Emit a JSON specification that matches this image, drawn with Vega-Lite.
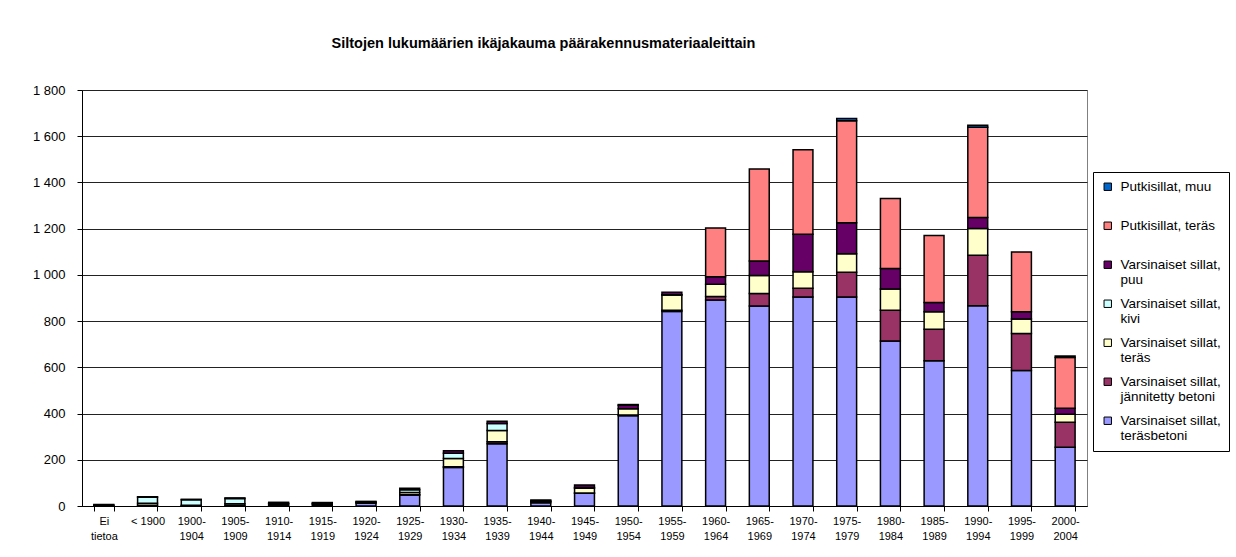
{
  "$schema": "https://vega.github.io/schema/vega-lite/v6.json",
  "width": 1005,
  "height": 416,
  "autosize": {"type": "none"},
  "padding": {"left": 82, "top": 90, "right": 149, "bottom": 51},
  "background": "white",
  "title": {
    "text": "Siltojen lukumäärien ikäjakauma päärakennusmateriaaleittain",
    "font": "Liberation Sans",
    "fontSize": 14.5,
    "fontWeight": "bold",
    "color": "#000",
    "anchor": "middle",
    "dx": -41,
    "offset": 33
  },
  "config": {
    "font": "Liberation Sans",
    "view": {"stroke": "#808080", "strokeWidth": 1}
  },
  "data": {
    "values": [
      {"kausi": "Ei tietoa", "sarja": "Varsinaiset sillat, teräsbetoni", "lkm": 2},
      {"kausi": "Ei tietoa", "sarja": "Varsinaiset sillat, teräs", "lkm": 1},
      {"kausi": "Ei tietoa", "sarja": "Varsinaiset sillat, puu", "lkm": 4},
      {"kausi": "< 1900", "sarja": "Varsinaiset sillat, teräsbetoni", "lkm": 3},
      {"kausi": "< 1900", "sarja": "Varsinaiset sillat, teräs", "lkm": 9},
      {"kausi": "< 1900", "sarja": "Varsinaiset sillat, kivi", "lkm": 26},
      {"kausi": "< 1900", "sarja": "Varsinaiset sillat, puu", "lkm": 2},
      {"kausi": "1900-1904", "sarja": "Varsinaiset sillat, teräsbetoni", "lkm": 1},
      {"kausi": "1900-1904", "sarja": "Varsinaiset sillat, teräs", "lkm": 2},
      {"kausi": "1900-1904", "sarja": "Varsinaiset sillat, kivi", "lkm": 24},
      {"kausi": "1900-1904", "sarja": "Varsinaiset sillat, puu", "lkm": 2},
      {"kausi": "1905-1909", "sarja": "Varsinaiset sillat, teräsbetoni", "lkm": 2},
      {"kausi": "1905-1909", "sarja": "Varsinaiset sillat, teräs", "lkm": 8},
      {"kausi": "1905-1909", "sarja": "Varsinaiset sillat, kivi", "lkm": 22},
      {"kausi": "1905-1909", "sarja": "Varsinaiset sillat, puu", "lkm": 3},
      {"kausi": "1910-1914", "sarja": "Varsinaiset sillat, teräsbetoni", "lkm": 4},
      {"kausi": "1910-1914", "sarja": "Varsinaiset sillat, teräs", "lkm": 6},
      {"kausi": "1910-1914", "sarja": "Varsinaiset sillat, kivi", "lkm": 2},
      {"kausi": "1910-1914", "sarja": "Varsinaiset sillat, puu", "lkm": 4},
      {"kausi": "1915-1919", "sarja": "Varsinaiset sillat, teräsbetoni", "lkm": 5},
      {"kausi": "1915-1919", "sarja": "Varsinaiset sillat, teräs", "lkm": 5},
      {"kausi": "1915-1919", "sarja": "Varsinaiset sillat, kivi", "lkm": 2},
      {"kausi": "1915-1919", "sarja": "Varsinaiset sillat, puu", "lkm": 3},
      {"kausi": "1920-1924", "sarja": "Varsinaiset sillat, teräsbetoni", "lkm": 12},
      {"kausi": "1920-1924", "sarja": "Varsinaiset sillat, teräs", "lkm": 4},
      {"kausi": "1920-1924", "sarja": "Varsinaiset sillat, kivi", "lkm": 1},
      {"kausi": "1920-1924", "sarja": "Varsinaiset sillat, puu", "lkm": 3},
      {"kausi": "1925-1929", "sarja": "Varsinaiset sillat, teräsbetoni", "lkm": 48},
      {"kausi": "1925-1929", "sarja": "Varsinaiset sillat, jännitetty betoni", "lkm": 1},
      {"kausi": "1925-1929", "sarja": "Varsinaiset sillat, teräs", "lkm": 9},
      {"kausi": "1925-1929", "sarja": "Varsinaiset sillat, kivi", "lkm": 12},
      {"kausi": "1925-1929", "sarja": "Varsinaiset sillat, puu", "lkm": 7},
      {"kausi": "1930-1934", "sarja": "Varsinaiset sillat, teräsbetoni", "lkm": 167},
      {"kausi": "1930-1934", "sarja": "Varsinaiset sillat, jännitetty betoni", "lkm": 3},
      {"kausi": "1930-1934", "sarja": "Varsinaiset sillat, teräs", "lkm": 36},
      {"kausi": "1930-1934", "sarja": "Varsinaiset sillat, kivi", "lkm": 22},
      {"kausi": "1930-1934", "sarja": "Varsinaiset sillat, puu", "lkm": 11},
      {"kausi": "1935-1939", "sarja": "Varsinaiset sillat, teräsbetoni", "lkm": 269},
      {"kausi": "1935-1939", "sarja": "Varsinaiset sillat, jännitetty betoni", "lkm": 9},
      {"kausi": "1935-1939", "sarja": "Varsinaiset sillat, teräs", "lkm": 49},
      {"kausi": "1935-1939", "sarja": "Varsinaiset sillat, kivi", "lkm": 30},
      {"kausi": "1935-1939", "sarja": "Varsinaiset sillat, puu", "lkm": 10},
      {"kausi": "1940-1944", "sarja": "Varsinaiset sillat, teräsbetoni", "lkm": 14},
      {"kausi": "1940-1944", "sarja": "Varsinaiset sillat, teräs", "lkm": 6},
      {"kausi": "1940-1944", "sarja": "Varsinaiset sillat, kivi", "lkm": 1},
      {"kausi": "1940-1944", "sarja": "Varsinaiset sillat, puu", "lkm": 5},
      {"kausi": "1945-1949", "sarja": "Varsinaiset sillat, teräsbetoni", "lkm": 55},
      {"kausi": "1945-1949", "sarja": "Varsinaiset sillat, jännitetty betoni", "lkm": 1},
      {"kausi": "1945-1949", "sarja": "Varsinaiset sillat, teräs", "lkm": 21},
      {"kausi": "1945-1949", "sarja": "Varsinaiset sillat, kivi", "lkm": 3},
      {"kausi": "1945-1949", "sarja": "Varsinaiset sillat, puu", "lkm": 11},
      {"kausi": "1950-1954", "sarja": "Varsinaiset sillat, teräsbetoni", "lkm": 391},
      {"kausi": "1950-1954", "sarja": "Varsinaiset sillat, jännitetty betoni", "lkm": 3},
      {"kausi": "1950-1954", "sarja": "Varsinaiset sillat, teräs", "lkm": 27},
      {"kausi": "1950-1954", "sarja": "Varsinaiset sillat, puu", "lkm": 15},
      {"kausi": "1950-1954", "sarja": "Putkisillat, teräs", "lkm": 3},
      {"kausi": "1955-1959", "sarja": "Varsinaiset sillat, teräsbetoni", "lkm": 842},
      {"kausi": "1955-1959", "sarja": "Varsinaiset sillat, jännitetty betoni", "lkm": 5},
      {"kausi": "1955-1959", "sarja": "Varsinaiset sillat, teräs", "lkm": 66},
      {"kausi": "1955-1959", "sarja": "Varsinaiset sillat, kivi", "lkm": 1},
      {"kausi": "1955-1959", "sarja": "Varsinaiset sillat, puu", "lkm": 11},
      {"kausi": "1960-1964", "sarja": "Varsinaiset sillat, teräsbetoni", "lkm": 891},
      {"kausi": "1960-1964", "sarja": "Varsinaiset sillat, jännitetty betoni", "lkm": 15},
      {"kausi": "1960-1964", "sarja": "Varsinaiset sillat, teräs", "lkm": 53},
      {"kausi": "1960-1964", "sarja": "Varsinaiset sillat, puu", "lkm": 33},
      {"kausi": "1960-1964", "sarja": "Putkisillat, teräs", "lkm": 211},
      {"kausi": "1965-1969", "sarja": "Varsinaiset sillat, teräsbetoni", "lkm": 865},
      {"kausi": "1965-1969", "sarja": "Varsinaiset sillat, jännitetty betoni", "lkm": 55},
      {"kausi": "1965-1969", "sarja": "Varsinaiset sillat, teräs", "lkm": 77},
      {"kausi": "1965-1969", "sarja": "Varsinaiset sillat, puu", "lkm": 63},
      {"kausi": "1965-1969", "sarja": "Putkisillat, teräs", "lkm": 398},
      {"kausi": "1970-1974", "sarja": "Varsinaiset sillat, teräsbetoni", "lkm": 904},
      {"kausi": "1970-1974", "sarja": "Varsinaiset sillat, jännitetty betoni", "lkm": 38},
      {"kausi": "1970-1974", "sarja": "Varsinaiset sillat, teräs", "lkm": 72},
      {"kausi": "1970-1974", "sarja": "Varsinaiset sillat, puu", "lkm": 162},
      {"kausi": "1970-1974", "sarja": "Putkisillat, teräs", "lkm": 366},
      {"kausi": "1975-1979", "sarja": "Varsinaiset sillat, teräsbetoni", "lkm": 904},
      {"kausi": "1975-1979", "sarja": "Varsinaiset sillat, jännitetty betoni", "lkm": 107},
      {"kausi": "1975-1979", "sarja": "Varsinaiset sillat, teräs", "lkm": 81},
      {"kausi": "1975-1979", "sarja": "Varsinaiset sillat, puu", "lkm": 134},
      {"kausi": "1975-1979", "sarja": "Putkisillat, teräs", "lkm": 441},
      {"kausi": "1975-1979", "sarja": "Putkisillat, muu", "lkm": 10},
      {"kausi": "1980-1984", "sarja": "Varsinaiset sillat, teräsbetoni", "lkm": 714},
      {"kausi": "1980-1984", "sarja": "Varsinaiset sillat, jännitetty betoni", "lkm": 133},
      {"kausi": "1980-1984", "sarja": "Varsinaiset sillat, teräs", "lkm": 92},
      {"kausi": "1980-1984", "sarja": "Varsinaiset sillat, puu", "lkm": 89},
      {"kausi": "1980-1984", "sarja": "Putkisillat, teräs", "lkm": 302},
      {"kausi": "1985-1989", "sarja": "Varsinaiset sillat, teräsbetoni", "lkm": 629},
      {"kausi": "1985-1989", "sarja": "Varsinaiset sillat, jännitetty betoni", "lkm": 136},
      {"kausi": "1985-1989", "sarja": "Varsinaiset sillat, teräs", "lkm": 76},
      {"kausi": "1985-1989", "sarja": "Varsinaiset sillat, puu", "lkm": 39},
      {"kausi": "1985-1989", "sarja": "Putkisillat, teräs", "lkm": 290},
      {"kausi": "1990-1994", "sarja": "Varsinaiset sillat, teräsbetoni", "lkm": 867},
      {"kausi": "1990-1994", "sarja": "Varsinaiset sillat, jännitetty betoni", "lkm": 218},
      {"kausi": "1990-1994", "sarja": "Varsinaiset sillat, teräs", "lkm": 116},
      {"kausi": "1990-1994", "sarja": "Varsinaiset sillat, puu", "lkm": 47},
      {"kausi": "1990-1994", "sarja": "Putkisillat, teräs", "lkm": 391},
      {"kausi": "1990-1994", "sarja": "Putkisillat, muu", "lkm": 8},
      {"kausi": "1995-1999", "sarja": "Varsinaiset sillat, teräsbetoni", "lkm": 586},
      {"kausi": "1995-1999", "sarja": "Varsinaiset sillat, jännitetty betoni", "lkm": 160},
      {"kausi": "1995-1999", "sarja": "Varsinaiset sillat, teräs", "lkm": 63},
      {"kausi": "1995-1999", "sarja": "Varsinaiset sillat, puu", "lkm": 32},
      {"kausi": "1995-1999", "sarja": "Putkisillat, teräs", "lkm": 258},
      {"kausi": "2000-2004", "sarja": "Varsinaiset sillat, teräsbetoni", "lkm": 254},
      {"kausi": "2000-2004", "sarja": "Varsinaiset sillat, jännitetty betoni", "lkm": 108},
      {"kausi": "2000-2004", "sarja": "Varsinaiset sillat, teräs", "lkm": 35},
      {"kausi": "2000-2004", "sarja": "Varsinaiset sillat, puu", "lkm": 26},
      {"kausi": "2000-2004", "sarja": "Putkisillat, teräs", "lkm": 220},
      {"kausi": "2000-2004", "sarja": "Putkisillat, muu", "lkm": 6}
    ]
  },
  "transform": [
    {
      "calculate": "indexof(['Putkisillat, muu', 'Putkisillat, teräs', 'Varsinaiset sillat, puu', 'Varsinaiset sillat, kivi', 'Varsinaiset sillat, teräs', 'Varsinaiset sillat, jännitetty betoni', 'Varsinaiset sillat, teräsbetoni'], datum.sarja)",
      "as": "pinojarjestys"
    }
  ],
  "mark": {"type": "bar", "stroke": "#000", "strokeWidth": 1.5},
  "encoding": {
    "x": {
      "field": "kausi",
      "type": "nominal",
      "sort": null,
      "scale": {"paddingInner": 0.545, "paddingOuter": 0.2725},
      "axis": {
        "title": null,
        "labelAngle": 0,
        "labelFontSize": 11,
        "labelColor": "#000",
        "labelLineHeight": 15,
        "labelPadding": 4,
        "labelBaseline": "top",
        "labelExpr": "datum.label == 'Ei tietoa' ? ['Ei', 'tietoa'] : (indexof(datum.label, '-') > 0 ? [substring(datum.label, 0, 5), substring(datum.label, 5)] : datum.label)",
        "tickBand": "extent",
        "tickColor": "#000",
        "tickSize": 5,
        "domainColor": "#000",
        "grid": false
      }
    },
    "y": {
      "field": "lkm",
      "type": "quantitative",
      "stack": "zero",
      "scale": {"domain": [0, 1800], "nice": false},
      "axis": {
        "title": null,
        "values": [0, 200, 400, 600, 800, 1000, 1200, 1400, 1600, 1800],
        "labelExpr": "replace(format(datum.value, ',d'), ',', ' ')",
        "labelFontSize": 13,
        "labelColor": "#000",
        "labelPadding": 12,
        "tickColor": "#000",
        "tickSize": 5,
        "domainColor": "#000",
        "grid": true,
        "gridColor": "#222",
        "gridOpacity": 1
      }
    },
    "order": {"field": "pinojarjestys", "type": "quantitative", "sort": "descending"},
    "color": {
      "field": "sarja",
      "type": "nominal",
      "scale": {
        "domain": [
          "Putkisillat, muu",
          "Putkisillat, teräs",
          "Varsinaiset sillat, puu",
          "Varsinaiset sillat, kivi",
          "Varsinaiset sillat, teräs",
          "Varsinaiset sillat, jännitetty betoni",
          "Varsinaiset sillat, teräsbetoni"
        ],
        "range": ["#0066CC", "#FF8080", "#660066", "#CCFFFF", "#FFFFCC", "#993366", "#9999FF"]
      },
      "legend": {
        "title": null,
        "orient": "none",
        "legendX": 1011,
        "legendY": 82,
        "fillColor": "white",
        "strokeColor": "#000",
        "padding": 8,
        "symbolType": "square",
        "symbolSize": 55,
        "symbolStrokeColor": "#000",
        "symbolStrokeWidth": 1,
        "symbolOpacity": 1,
        "labelFontSize": 13.5,
        "labelColor": "#000",
        "labelLimit": 200,
        "labelOffset": 6,
        "labelLineHeight": 17,
        "gridAlign": "all",
        "rowPadding": 9,
        "labelExpr": "indexof(datum.label, 'Varsinaiset') == 0 ? ['Varsinaiset sillat,', substring(datum.label, 20)] : datum.label"
      }
    }
  }
}
